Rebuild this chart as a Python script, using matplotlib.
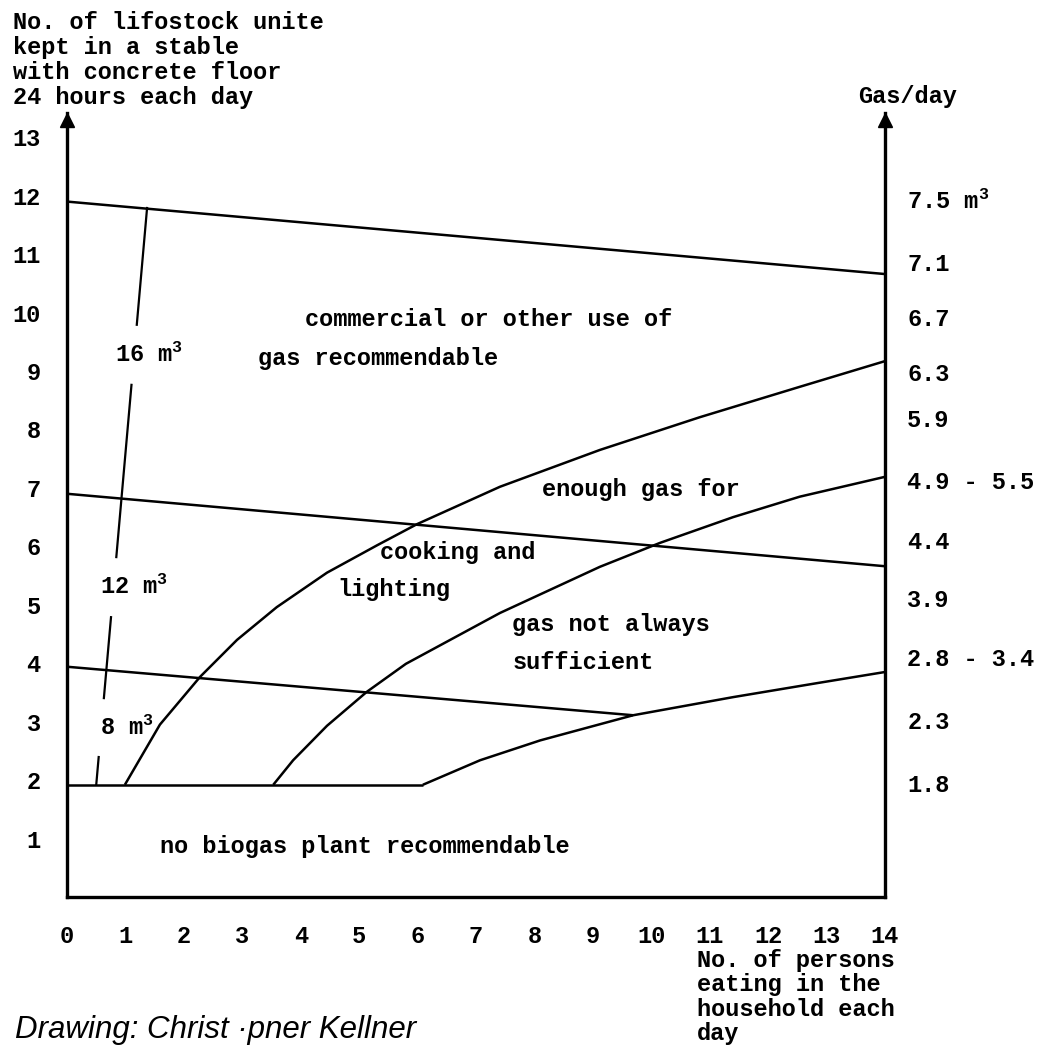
import numpy as np
import matplotlib.pyplot as plt

plt.rcParams['font.family'] = ['Liberation Mono', 'DejaVu Sans Mono']
plt.rcParams['font.weight'] = 'bold'
plt.rcParams['mathtext.default'] = 'regular'

# x: persons eating in the household, y: livestock units in the stable
persons = np.arange(0, 15)
livestock = np.arange(1, 14)

# right hand scale: gas per day, written next to the livestock levels
gas_labels = ['7.5 m$^3$', '7.1', '6.7', '6.3', '5.9', '4.9 - 5.5',
              '4.4', '3.9', '2.8 - 3.4', '2.3', '1.8']
gas_label_y = [11.93, 10.87, 9.93, 8.99, 8.2, 7.14, 6.11, 5.12, 4.11, 3.03, 1.95]

# straight boundaries (livestock level sinking a little with more persons)
top_x = [0, 14]
top_y = [11.9, 10.66]
mid_x = [0, 14]
mid_y = [6.9, 5.66]
low_x = [0, 9.69]
low_y = [3.94, 3.11]
floor_x = [0, 6.09]
floor_y = [1.92, 1.92]

# curved boundaries
curve1_x = [0.99, 1.59, 2.28, 2.91, 3.59, 4.45, 5.31, 5.99, 7.41, 9.12, 10.83, 12.54, 14.0]
curve1_y = [1.92, 2.95, 3.77, 4.40, 4.96, 5.55, 6.02, 6.38, 7.02, 7.65, 8.21, 8.73, 9.17]
curve2_x = [3.53, 3.87, 4.45, 5.13, 5.80, 7.41, 9.12, 10.15, 11.40, 12.54, 14.0]
curve2_y = [1.92, 2.34, 2.93, 3.51, 3.99, 4.86, 5.65, 6.06, 6.50, 6.85, 7.19]
curve3_x = [6.09, 7.07, 8.10, 9.69, 11.40, 12.84, 14.0]
curve3_y = [1.92, 2.34, 2.68, 3.11, 3.42, 3.66, 3.85]

# digester size scale line
size_line_x = [1.37, 0.50]
size_line_y = [11.79, 1.92]
size_labels = ['16 m$^3$', '12 m$^3$', '8 m$^3$']
size_label_x = [0.82, 0.56, 0.56]
size_label_y = [9.28, 5.3, 2.9]

region_texts = [
    (4.07, 9.88, 'commercial or other use of'),
    (3.27, 9.22, 'gas recommendable'),
    (8.13, 6.97, 'enough gas for'),
    (5.36, 5.89, 'cooking and'),
    (4.62, 5.27, 'lighting'),
    (7.62, 4.66, 'gas not always'),
    (7.63, 4.02, 'sufficient'),
    (1.59, 0.86, 'no biogas plant recommendable'),
]

fs = 17
fig = plt.figure(figsize=(10.44, 10.48), dpi=100)
ax = fig.add_axes([0.0642, 0.1441, 0.7835, 0.7483])
ax.set_xlim(0, 14)
ax.set_ylim(0, 13.42)

lw = 1.8
for xs, ys in [(top_x, top_y), (mid_x, mid_y), (low_x, low_y), (floor_x, floor_y),
               (curve1_x, curve1_y), (curve2_x, curve2_y), (curve3_x, curve3_y)]:
    ax.plot(xs, ys, color='black', lw=lw, solid_capstyle='butt', solid_joinstyle='round')

# size line, broken where its labels sit
t = np.linspace(0, 1, 500)
sx = size_line_x[0] + t * (size_line_x[1] - size_line_x[0])
sy = size_line_y[0] + t * (size_line_y[1] - size_line_y[0])
for c in size_label_y:
    gap = np.abs(sy - c) < 0.5
    sx[gap] = np.nan
ax.plot(sx, sy, color='black', lw=1.6)
for x, y, s in zip(size_label_x, size_label_y, size_labels):
    ax.text(x, y, s, fontsize=fs, va='center', ha='left')

for x, y, s in region_texts:
    ax.text(x, y, s, fontsize=fs, va='center', ha='left')

# axes frame
for side in ['left', 'right', 'bottom']:
    ax.spines[side].set_linewidth(2.4)
ax.spines['top'].set_visible(False)
ax.plot([0, 14], [13.3, 13.3], linestyle='none', marker='^', color='black',
        ms=10, clip_on=False)

ax.set_xticks(persons)
ax.set_xticklabels([str(p) for p in persons])
ax.set_yticks(livestock)
ax.set_yticklabels([str(v) for v in livestock])
ax.tick_params(axis='x', length=0, pad=20, labelsize=fs)
ax.tick_params(axis='y', length=0, pad=19, labelsize=fs)

ax2 = ax.twinx()
ax2.set_ylim(ax.get_ylim())
ax2.set_yticks(gas_label_y)
ax2.set_yticklabels(gas_labels)
ax2.tick_params(axis='y', length=0, pad=16, labelsize=fs)
for side in ax2.spines:
    ax2.spines[side].set_visible(False)

fig.text(13 / 1044, 1 - 11 / 1048,
         'No. of lifostock unite\nkept in a stable\nwith concrete floor\n24 hours each day',
         fontsize=fs, va='top', ha='left', linespacing=1.12)
fig.text(858 / 1044, 1 - 97 / 1048, 'Gas/day', fontsize=fs, va='center', ha='left')
fig.text(697 / 1044, 1 - 949 / 1048,
         'No. of persons\neating in the\nhousehold each\nday',
         fontsize=fs, va='top', ha='left', linespacing=1.07)
fig.text(15 / 1044, 1 - 1030 / 1048, 'Drawing: Christ \u00b7pner Kellner',
         fontsize=22.5, family='Liberation Sans', style='italic', weight='normal',
         va='center', ha='left')

fig.savefig('out.png', dpi=100)
